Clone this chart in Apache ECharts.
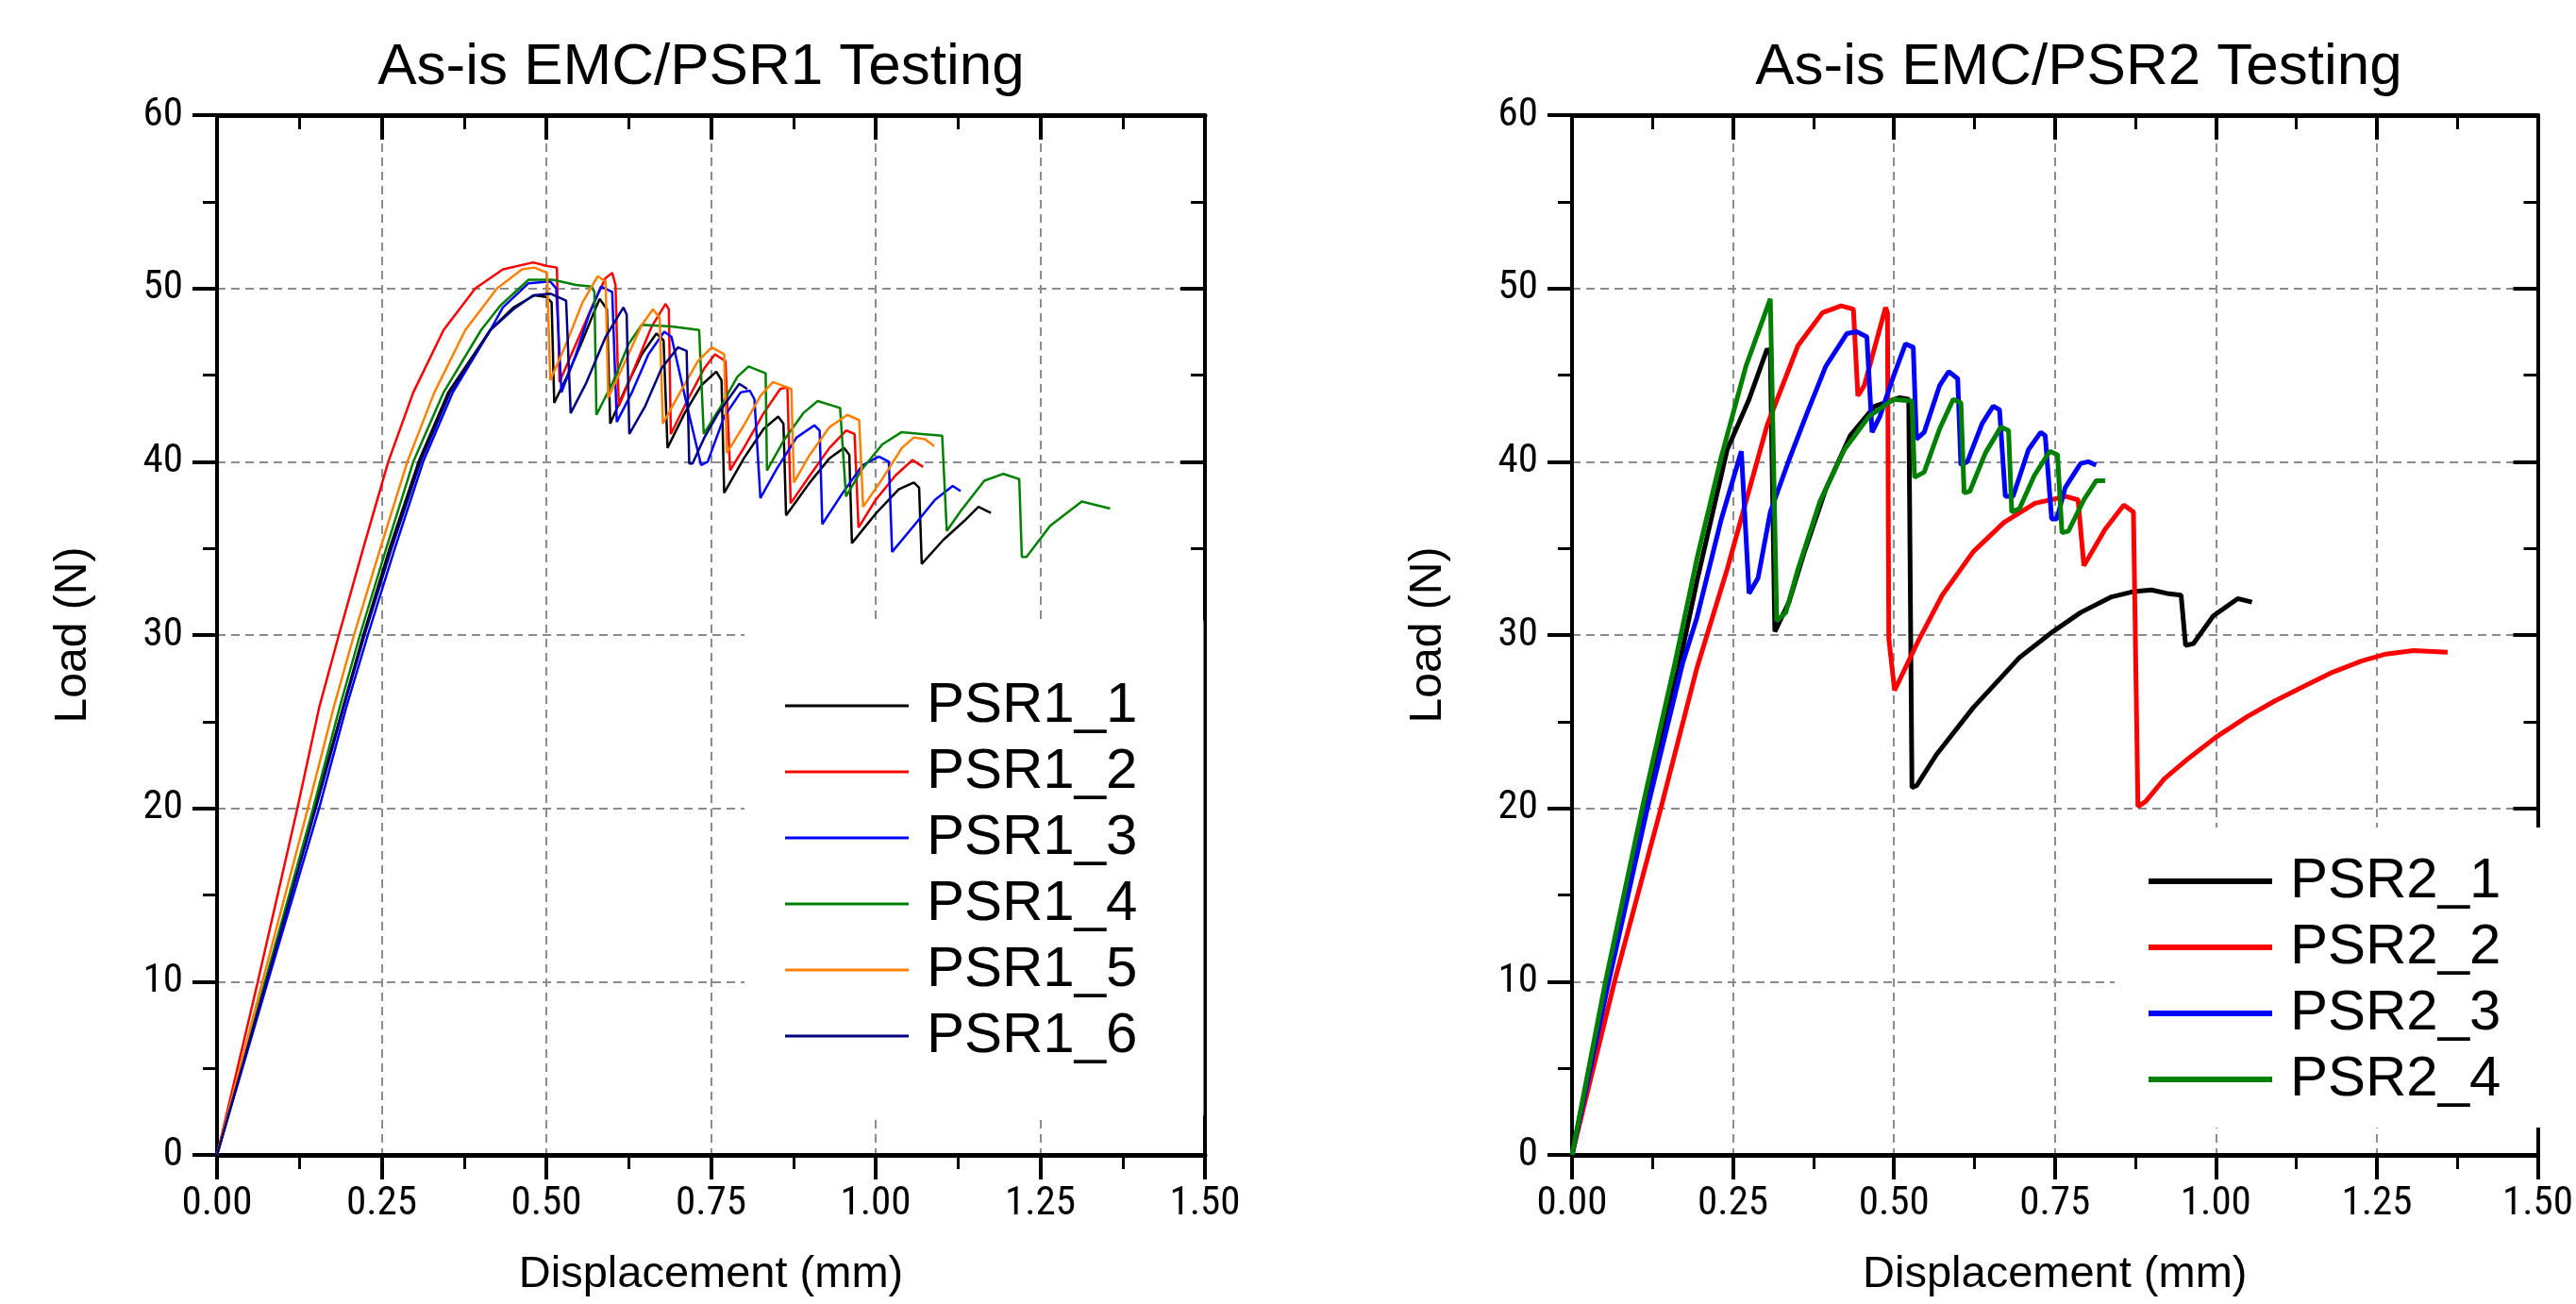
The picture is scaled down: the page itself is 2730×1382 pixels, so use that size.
<!DOCTYPE html>
<html>
<head>
<meta charset="utf-8">
<script src="https://cdn.jsdelivr.net/npm/echarts@6/dist/echarts.min.js"></script>
<style>
html,body{margin:0;padding:0;background:#fff;}
#chart{width:2730px;height:1382px;}
</style>
</head>
<body>
<div id="chart"></div>
<script>
// ---------- DATA (displacement mm, load N) ----------
const titles = ['As-is EMC/PSR1 Testing', 'As-is EMC/PSR2 Testing'];
const xTicks = [0, 0.25, 0.5, 0.75, 1.0, 1.25, 1.5];
const yTicks = [0, 10, 20, 30, 40, 50, 60];

const names1 = ['PSR1_1', 'PSR1_2', 'PSR1_3', 'PSR1_4', 'PSR1_5', 'PSR1_6'];
const colors1 = ['#000000', '#ff0000', '#0000ff', '#008000', '#ff8000', '#000080'];

const psr1_1 = [[0,0],[0.074,10],[0.148,20],[0.191,25.8],[0.222,30],[0.262,35],[0.306,40],[0.351,44],[0.415,47.6],[0.45,48.9],[0.482,49.6],[0.5,49.5],[0.508,49.2],[0.512,43.4],[0.53,44.8],[0.555,47.0],[0.572,48.6],[0.581,49.4],[0.592,48.8],[0.597,42.2],[0.62,44.2],[0.645,46.2],[0.667,47.4],[0.678,47.0],[0.684,40.8],[0.71,42.8],[0.735,44.4],[0.758,45.2],[0.766,44.7],[0.77,38.2],[0.8,40.2],[0.83,41.9],[0.852,42.6],[0.86,42.2],[0.864,36.9],[0.9,38.8],[0.93,40.2],[0.952,40.8],[0.96,40.4],[0.964,35.3],[1.0,37.0],[1.035,38.4],[1.058,38.8],[1.066,38.5],[1.07,34.1],[1.103,35.5],[1.135,36.6],[1.156,37.4],[1.175,37.05]];
const psr1_2 = [[0,0],[0.062,10],[0.122,20],[0.155,25.8],[0.185,30],[0.222,35],[0.26,40],[0.298,44],[0.344,47.6],[0.392,50],[0.434,51.1],[0.48,51.5],[0.5,51.3],[0.516,51.2],[0.52,44.6],[0.545,46.8],[0.57,49],[0.59,50.6],[0.6,50.9],[0.605,50.2],[0.61,43.2],[0.635,45.5],[0.66,47.8],[0.681,49.1],[0.686,48.8],[0.689,41.6],[0.715,43.6],[0.74,45.4],[0.756,46.2],[0.772,45.8],[0.779,39.5],[0.8,40.8],[0.83,42.8],[0.855,44.2],[0.866,44.3],[0.871,37.6],[0.9,39.2],[0.93,40.8],[0.955,41.8],[0.968,41.6],[0.974,36.2],[1.0,37.8],[1.03,39.2],[1.056,40.1],[1.072,39.7]];
const psr1_3 = [[0,0],[0.077,10],[0.155,20],[0.196,25.8],[0.229,30],[0.27,35],[0.313,40],[0.358,44],[0.415,47.6],[0.434,48.9],[0.473,50.3],[0.506,50.4],[0.515,50.0],[0.523,44.0],[0.545,46.2],[0.565,48.5],[0.583,50.1],[0.6,49.8],[0.607,42.3],[0.63,44.0],[0.655,46.2],[0.679,47.5],[0.69,47.2],[0.715,43.0],[0.735,39.8],[0.745,40.0],[0.77,42.6],[0.795,44.0],[0.809,44.1],[0.816,43.6],[0.825,37.9],[0.85,39.6],[0.88,41.4],[0.907,42.1],[0.915,41.8],[0.919,36.4],[0.95,38.2],[0.98,39.8],[1.005,40.3],[1.02,40.0],[1.025,34.8],[1.06,36.4],[1.09,37.8],[1.117,38.6],[1.129,38.3]];
const psr1_4 = [[0,0],[0.073,10],[0.146,20],[0.186,25.8],[0.217,30],[0.257,35],[0.298,40],[0.344,44],[0.401,47.6],[0.43,49],[0.473,50.5],[0.51,50.5],[0.545,50.2],[0.569,50.1],[0.573,49.8],[0.576,42.7],[0.6,44.5],[0.625,46.8],[0.645,47.9],[0.69,47.8],[0.732,47.6],[0.739,41.6],[0.765,43.2],[0.79,44.9],[0.807,45.5],[0.833,45.1],[0.835,39.5],[0.86,41.2],[0.89,42.8],[0.912,43.5],[0.946,43.1],[0.955,38.0],[0.98,39.6],[1.01,41.0],[1.039,41.7],[1.07,41.6],[1.101,41.5],[1.108,36.0],[1.13,37.2],[1.165,38.9],[1.194,39.3],[1.218,39.0],[1.222,34.5],[1.229,34.5],[1.265,36.3],[1.313,37.7],[1.356,37.3]];
const psr1_5 = [[0,0],[0.069,10],[0.138,20],[0.177,25.8],[0.208,30],[0.248,35],[0.289,40],[0.33,44],[0.377,47.6],[0.425,50],[0.463,51.1],[0.482,51.2],[0.501,50.9],[0.506,44.7],[0.53,46.8],[0.555,49.2],[0.578,50.7],[0.59,50.4],[0.594,43.7],[0.62,45.8],[0.645,47.9],[0.662,48.8],[0.672,48.3],[0.677,42.2],[0.7,43.8],[0.73,45.8],[0.751,46.6],[0.77,46.2],[0.774,40.5],[0.8,42.1],[0.825,43.8],[0.844,44.6],[0.872,44.2],[0.876,38.8],[0.9,40.4],[0.93,42.0],[0.957,42.7],[0.975,42.4],[0.981,37.4],[1.01,39.0],[1.04,40.8],[1.058,41.4],[1.075,41.3],[1.089,40.9]];
const psr1_6 = [[0,0],[0.075,10],[0.15,20],[0.192,25.8],[0.224,30],[0.265,35],[0.309,40],[0.354,44],[0.415,47.6],[0.45,48.8],[0.48,49.6],[0.506,49.7],[0.53,49.3],[0.537,42.8],[0.56,44.5],[0.59,47.2],[0.617,48.9],[0.622,48.5],[0.626,41.6],[0.65,43.2],[0.675,45.4],[0.7,46.6],[0.713,46.4],[0.717,39.9],[0.722,39.9],[0.74,41.4],[0.761,42.8],[0.793,44.5],[0.805,44.2]];

const names2 = ['PSR2_1', 'PSR2_2', 'PSR2_3', 'PSR2_4'];
const colors2 = ['#000000', '#ff0000', '#0000ff', '#008000'];

const psr2_1 = [[0,0],[0.055,10],[0.112,20],[0.165,28],[0.194,33.1],[0.241,40.7],[0.275,43.6],[0.303,46.5],[0.308,46.3],[0.315,30.2],[0.337,31.9],[0.361,34.8],[0.394,38.4],[0.432,41.5],[0.47,43.2],[0.509,43.7],[0.523,43.6],[0.528,21.2],[0.535,21.3],[0.566,23.1],[0.623,25.8],[0.695,28.7],[0.747,30.2],[0.79,31.3],[0.838,32.2],[0.871,32.5],[0.9,32.6],[0.924,32.4],[0.946,32.3],[0.953,29.4],[0.965,29.5],[0.996,31.1],[1.034,32.1],[1.056,31.9]];
const psr2_2 = [[0,0],[0.066,10],[0.138,20],[0.194,28.1],[0.241,33.8],[0.303,42.1],[0.351,46.7],[0.389,48.6],[0.418,49.0],[0.437,48.8],[0.444,43.8],[0.454,44.4],[0.487,48.9],[0.49,48.6],[0.492,29.8],[0.501,26.8],[0.537,29.6],[0.575,32.3],[0.623,34.8],[0.671,36.5],[0.719,37.6],[0.767,38.0],[0.786,37.8],[0.795,34.0],[0.828,36.1],[0.857,37.5],[0.872,37.1],[0.879,20.1],[0.891,20.4],[0.92,21.7],[0.958,22.9],[1.0,24.1],[1.049,25.3],[1.092,26.2],[1.14,27.1],[1.178,27.8],[1.226,28.5],[1.264,28.9],[1.307,29.1],[1.36,29.0]];
const psr2_3 = [[0,0],[0.057,10],[0.117,20],[0.172,28.4],[0.194,31.0],[0.232,36.7],[0.263,40.6],[0.275,32.4],[0.289,33.3],[0.308,37.1],[0.337,40.1],[0.365,42.8],[0.394,45.5],[0.427,47.4],[0.442,47.5],[0.458,47.2],[0.466,41.7],[0.478,42.6],[0.499,44.9],[0.518,46.8],[0.53,46.6],[0.535,41.3],[0.547,41.7],[0.571,44.4],[0.585,45.2],[0.599,44.8],[0.604,39.8],[0.614,40.0],[0.637,42.2],[0.654,43.2],[0.664,43.0],[0.673,38.0],[0.685,38.0],[0.709,40.7],[0.728,41.7],[0.735,41.5],[0.745,36.7],[0.753,36.7],[0.766,38.5],[0.79,39.9],[0.802,40.0],[0.814,39.8]];
const psr2_4 = [[0,0],[0.052,10],[0.109,20],[0.16,28.4],[0.194,34.4],[0.232,40.3],[0.27,45.5],[0.308,49.4],[0.318,30.8],[0.332,31.3],[0.351,33.8],[0.385,37.7],[0.423,40.7],[0.461,42.6],[0.499,43.6],[0.528,43.5],[0.532,39.1],[0.547,39.4],[0.571,41.9],[0.592,43.6],[0.604,43.4],[0.609,38.2],[0.618,38.3],[0.642,40.5],[0.666,42.0],[0.678,41.8],[0.683,37.1],[0.695,37.3],[0.718,39.2],[0.742,40.6],[0.754,40.4],[0.761,35.9],[0.771,36.0],[0.795,37.8],[0.814,38.9],[0.828,38.9]];

const data1 = [psr1_1, psr1_2, psr1_3, psr1_4, psr1_5, psr1_6];
const data2 = [psr2_1, psr2_2, psr2_3, psr2_4];

// ---------- FONTS ----------
const FONT = "'Liberation Sans', Arial, sans-serif";
// The reference tick labels use a narrow regular-weight sans; use one if installed, otherwise shrink a little.
function pickTickFont() {
  const ctx = document.createElement('canvas').getContext('2d');
  const cands = ['Liberation Sans Narrow', 'Arial Narrow', 'Nimbus Sans Narrow', 'Roboto Condensed', 'Noto Sans Condensed'];
  ctx.font = '100px monospace';
  const mono = ctx.measureText('0.00 PSR').width;
  let best = null, bestW = Infinity;
  cands.forEach(f => {
    ctx.font = "100px '" + f + "', monospace";
    if (Math.abs(ctx.measureText('0.00 PSR').width - mono) > 0.5) {
      ctx.font = "100px '" + f + "'";
      const w = ctx.measureText('0.00').width;
      if (w < bestW) { bestW = w; best = f; }
    }
  });
  const family = best ? "'" + best + "', " + FONT : FONT;
  ctx.font = "44px " + family;
  const w44 = ctx.measureText('0.00').width;
  const size = Math.max(39, Math.min(44, 44 * 75 / w44));
  return {family: family, size: Math.round(size)};
}
const tickFont = pickTickFont();

// ---------- STYLE ----------
const grids = [
  {left: 230, top: 122, width: 1047, height: 1102},
  {left: 1666, top: 122, width: 1045, height: 1102}
];
const gridLine = {show: true, lineStyle: {color: '#8c8c8c', width: 2, type: [9, 6]}};

function xAxes() {
  return [
    {
      type: 'value', position: 'bottom',
      min: xTicks[0], max: xTicks[xTicks.length - 1], interval: xTicks[1] - xTicks[0],
      axisLine: {show: true, onZero: false, lineStyle: {color: '#000', width: 5}},
      axisTick: {show: true, length: 26, lineStyle: {color: '#000', width: 4}},
      minorTick: {show: true, splitNumber: 2, length: 15, lineStyle: {color: '#000', width: 3}},
      axisLabel: {show: true, formatter: v => v.toFixed(2), fontSize: tickFont.size, fontFamily: tickFont.family,
                  fontWeight: 'normal', color: '#000', margin: 31},
      splitLine: gridLine,
      name: 'Displacement (mm)', nameLocation: 'middle', nameGap: 104,
      nameTextStyle: {fontSize: 47, fontFamily: FONT, color: '#000'}
    },
    {
      type: 'value', position: 'top',
      min: xTicks[0], max: xTicks[xTicks.length - 1], interval: xTicks[1] - xTicks[0],
      axisLine: {show: true, onZero: false, lineStyle: {color: '#000', width: 5}},
      axisTick: {show: true, inside: true, length: 26, lineStyle: {color: '#000', width: 4}},
      minorTick: {show: true, splitNumber: 2, length: 15, lineStyle: {color: '#000', width: 3}},
      axisLabel: {show: false}, splitLine: {show: false}
    }
  ];
}
function yAxes() {
  return [
    {
      type: 'value', position: 'left',
      min: yTicks[0], max: yTicks[yTicks.length - 1], interval: yTicks[1] - yTicks[0],
      axisLine: {show: true, onZero: false, lineStyle: {color: '#000', width: 4}},
      axisTick: {show: true, length: 26, lineStyle: {color: '#000', width: 4}},
      minorTick: {show: true, splitNumber: 2, length: 15, lineStyle: {color: '#000', width: 3}},
      axisLabel: {show: true, fontSize: tickFont.size, fontFamily: tickFont.family, fontWeight: 'normal',
                  color: '#000', margin: 36},
      splitLine: gridLine,
      name: 'Load (N)', nameLocation: 'middle', nameGap: 128, nameRotate: 90,
      nameTextStyle: {fontSize: 48, fontFamily: FONT, color: '#000'}
    },
    {
      type: 'value', position: 'right',
      min: yTicks[0], max: yTicks[yTicks.length - 1], interval: yTicks[1] - yTicks[0],
      axisLine: {show: true, onZero: false, lineStyle: {color: '#000', width: 4}},
      axisTick: {show: true, inside: true, length: 26, lineStyle: {color: '#000', width: 4}},
      minorTick: {show: true, splitNumber: 2, length: 15, lineStyle: {color: '#000', width: 3}},
      axisLabel: {show: false}, splitLine: {show: false}
    }
  ];
}

const series = [];
names1.forEach((n, i) => series.push({
  name: n, type: 'line', xAxisIndex: 0, yAxisIndex: 0, data: data1[i],
  symbol: 'none', smooth: false, lineStyle: {width: 2.5, color: colors1[i]},
  itemStyle: {color: colors1[i]}, z: 3
}));
names2.forEach((n, i) => series.push({
  name: n, type: 'line', xAxisIndex: 2, yAxisIndex: 2, data: data2[i],
  symbol: 'none', smooth: false, lineStyle: {width: 5, color: colors2[i]},
  itemStyle: {color: colors2[i]}, z: 3
}));

const legendText = {fontSize: 60, fontFamily: FONT, color: '#000', lineHeight: 70, padding: [0, 0, 0, 14]};

const option = {
  animation: false,
  backgroundColor: '#ffffff',
  title: [
    {text: titles[0], left: 743, top: 41, textAlign: 'center', padding: 0,
     textStyle: {fontSize: 62, fontWeight: 'normal', fontFamily: FONT, color: '#000'}},
    {text: titles[1], left: 2203, top: 41, textAlign: 'center', padding: 0,
     textStyle: {fontSize: 62, fontWeight: 'normal', fontFamily: FONT, color: '#000'}}
  ],
  legend: [
    {data: names1, orient: 'vertical', left: 789, top: 658, padding: [55, 70, 49, 43],
     backgroundColor: '#ffffff', icon: 'rect', itemWidth: 131, itemHeight: 3, itemGap: 0,
     textStyle: legendText, selectedMode: false},
    {data: names2, orient: 'vertical', left: 2241, top: 877, padding: [22, 80, 16, 36],
     backgroundColor: '#ffffff', icon: 'rect', itemWidth: 131, itemHeight: 6, itemGap: 0,
     textStyle: legendText, selectedMode: false}
  ],
  grid: grids,
  xAxis: [...xAxes(), ...xAxes()].map((a, i) => Object.assign(a, {gridIndex: i < 2 ? 0 : 1})),
  yAxis: [...yAxes(), ...yAxes()].map((a, i) => Object.assign(a, {gridIndex: i < 2 ? 0 : 1})),
  series: series
};

const chart = echarts.init(document.getElementById('chart'), null, {renderer: 'canvas'});
chart.setOption(option);
</script>
</body>
</html>
